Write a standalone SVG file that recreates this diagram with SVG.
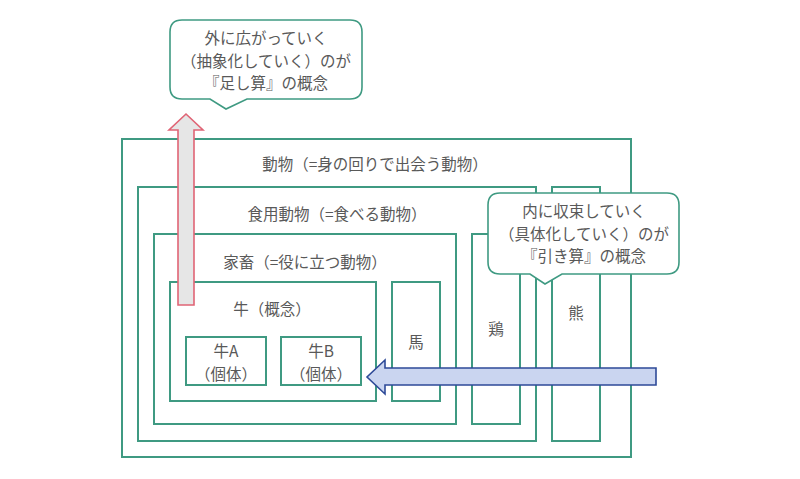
<svg xmlns="http://www.w3.org/2000/svg" width="800" height="479" viewBox="0 0 800 479">
<style>
.box{fill:none;stroke:#3f9a82;stroke-width:2}
.t{font-family:"Noto Sans CJK JP","Noto Sans",sans-serif;font-size:15.5px;fill:#595959;text-anchor:middle;dominant-baseline:central}
.call{fill:#fff;stroke:#3f9a82;stroke-width:1.6}
</style>
<rect width="800" height="479" fill="#fff"/>
<g id="animal"><rect class="box" x="122" y="139" width="509" height="318"/><text class="t" x="375" y="163">動物（=身の回りで出会う動物）</text></g>
<g id="food"><rect class="box" x="138" y="187" width="398" height="254"/><text class="t" x="337" y="213">食用動物（=食べる動物）</text></g>
<g id="bear"><rect class="box" x="552" y="187" width="48" height="254"/><text class="t" x="576" y="312">熊</text></g>
<g id="livestock"><rect class="box" x="154" y="234" width="302" height="190"/><text class="t" x="305" y="261">家畜（=役に立つ動物）</text></g>
<g id="chicken"><rect class="box" x="472" y="234" width="48" height="190"/><text class="t" x="496" y="328">鶏</text></g>
<g id="cow"><rect class="box" x="170" y="282" width="206" height="119"/><text class="t" x="272" y="308">牛（概念）</text></g>
<g id="horse"><rect class="box" x="392" y="282" width="48" height="119"/><text class="t" x="416" y="341">馬</text></g>
<g id="cowA"><rect class="box" x="186" y="337" width="80" height="48"/><text class="t" x="226" y="350">牛A</text><text class="t" x="226" y="372.5">（個体）</text></g>
<g id="cowB"><rect class="box" x="281" y="337" width="80" height="48"/><text class="t" x="321" y="350">牛B</text><text class="t" x="321" y="372.5">（個体）</text></g>
<g id="connectors">
<polygon points="178,305 194,305 194,130 203,130 186,114 169,130 178,130" fill="#e6e6e6" stroke="#e06475" stroke-width="1.6"/>
<polygon points="656,368 385,368 385,360 367,377 385,394 385,385 656,385" fill="#cad5f0" stroke="#2e4a98" stroke-width="1.6"/>
</g>
<g id="callout-add">
<path class="call" d="M182,20 H350 Q362,20 362,32 V87 Q362,99 350,99 H247 L226,109 L210,99 H182 Q170,99 170,87 V32 Q170,20 182,20 Z"/>
<text class="t" x="266" y="37">外に広がっていく</text>
<text class="t" x="266" y="59.5">（抽象化していく）のが</text>
<text class="t" x="266" y="82">『足し算』の概念</text>
</g>
<g id="callout-sub">
<path class="call" d="M500,193 H667 Q679,193 679,205 V262 Q679,274 667,274 H562 L545,284 L530,274 H500 Q488,274 488,262 V205 Q488,193 500,193 Z"/>
<text class="t" x="584" y="210">内に収束していく</text>
<text class="t" x="584" y="232.5">（具体化していく）のが</text>
<text class="t" x="584" y="255">『引き算』の概念</text>
</g>
</svg>
